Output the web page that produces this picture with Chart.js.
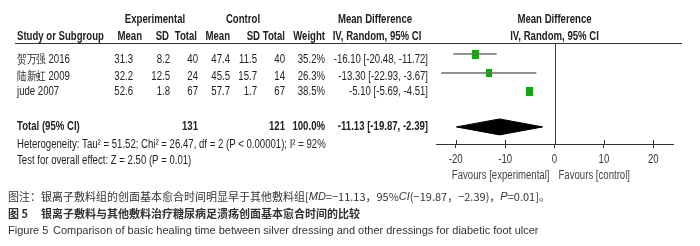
<!DOCTYPE html>
<html>
<head>
<meta charset="utf-8">
<script src="https://cdn.jsdelivr.net/npm/chart.js@4.4.1/dist/chart.umd.min.js"></script>
<style>
  html, body { margin: 0; padding: 0; background: #fff; }
  #forest { display: block; }
</style>
</head>
<body>
<canvas id="forest" width="700" height="246"></canvas>
<script>
// study data
const studies = ['贺万强 2016', '陆新虹 2009', 'jude 2007'];
const expMean = [31.3, 32.2, 52.6];
const expSD = [8.2, 12.5, 1.8];
const expTotal = [40, 24, 67];
const ctrlMean = [47.4, 45.5, 57.7];
const ctrlSD = [11.5, 15.7, 1.7];
const ctrlTotal = [40, 14, 67];
const weights = [35.2, 26.3, 38.5];
const mdValue = [-16.10, -13.30, -5.10];
const ciLow = [-20.48, -22.93, -5.69];
const ciHigh = [-11.72, -3.67, -4.51];

const totalMD = -11.13;
const totalLow = -19.87;
const totalHigh = -2.39;
const totalExp = 131;
const totalCtrl = 121;

const xTicks = [-20, -10, 0, 10, 20];

const green = '#00b000';
const ciGray = '#6e6e6e';
const ink = '#222';

// row positions on the y scale (1 = first study)
const rows = studies.map((s, i) => i + 1);
const totalRow = studies.length + 1.84;
const diamondHalf = 0.42;

function fmt(v) {
  return v.toFixed(2);
}

function squareFor(w) {
  const side = 1.15 * Math.sqrt(w);
  const c = document.createElement('canvas');
  c.width = Math.round(side);
  c.height = Math.round(side * 1.3);
  const g = c.getContext('2d');
  g.fillStyle = green;
  g.fillRect(0, 0, c.width, c.height);
  return c;
}

const ciSets = studies.map((s, i) => ({
  type: 'scatter',
  data: [{ x: ciLow[i], y: rows[i] }, { x: ciHigh[i], y: rows[i] }],
  showLine: true,
  borderColor: ciGray,
  borderWidth: 1.5,
  pointRadius: 0,
}));

const squareSet = {
  type: 'scatter',
  data: mdValue.map((v, i) => ({ x: v, y: rows[i] })),
  pointStyle: weights.map(squareFor),
  pointRadius: 4,
};

const diamondSet = {
  type: 'scatter',
  data: [
    { x: totalLow, y: totalRow },
    { x: totalMD, y: totalRow - diamondHalf },
    { x: totalHigh, y: totalRow },
    { x: totalMD, y: totalRow + diamondHalf },
    { x: totalLow, y: totalRow },
  ],
  showLine: true,
  fill: 'shape',
  tension: 0,
  borderColor: '#000',
  backgroundColor: '#000',
  borderWidth: 1,
  pointRadius: 0,
};

// text drawn a bit narrower, like the original condensed face
function txt(ctx, s, x, y, align, font, sx, color) {
  ctx.save();
  ctx.font = font;
  ctx.fillStyle = color || ink;
  ctx.textAlign = align;
  ctx.textBaseline = 'middle';
  ctx.translate(x, y);
  ctx.scale(sx, 1);
  ctx.fillText(s, 0, 0);
  ctx.restore();
}

const reg = '12px "Liberation Sans", Arial, sans-serif';
const bold = 'bold 12px "Liberation Sans", Arial, sans-serif';
const SX = 0.8;

const forestText = {
  id: 'forestText',
  afterDraw(chart) {
    const { ctx, chartArea, scales: { x } } = chart;
    const zero = x.getPixelForValue(0);

    ctx.save();
    // header rule
    ctx.strokeStyle = '#333';
    ctx.lineWidth = 1;
    ctx.beginPath();
    ctx.moveTo(15, 43.5);
    ctx.lineTo(682, 43.5);
    ctx.stroke();
    // line of no effect
    ctx.strokeStyle = '#444';
    ctx.beginPath();
    ctx.moveTo(Math.round(zero) + 0.5, chartArea.top);
    ctx.lineTo(Math.round(zero) + 0.5, chartArea.bottom);
    ctx.stroke();
    // upper half of the tick marks
    ctx.strokeStyle = '#333';
    xTicks.forEach((t) => {
      const px = Math.round(x.getPixelForValue(t)) + 0.5;
      ctx.beginPath();
      ctx.moveTo(px, chartArea.bottom - 4);
      ctx.lineTo(px, chartArea.bottom);
      ctx.stroke();
    });
    ctx.restore();

    // tick labels
    xTicks.forEach((t) => {
      txt(ctx, String(t), x.getPixelForValue(t), 160, 'center', reg, SX, '#333');
    });
    txt(ctx, 'Favours [experimental]', zero - 5, 176, 'right', reg, SX, '#444');
    txt(ctx, 'Favours [control]', zero + 4, 176, 'left', reg, SX, '#444');

    // headers
    txt(ctx, 'Experimental', 155, 20, 'center', bold, SX);
    txt(ctx, 'Control', 243, 20, 'center', bold, SX);
    txt(ctx, 'Mean Difference', 375, 20, 'center', bold, SX);
    txt(ctx, 'Mean Difference', zero, 20, 'center', bold, SX);
    txt(ctx, 'Study or Subgroup', 17, 37, 'left', bold, SX);
    txt(ctx, 'Mean', 142, 37, 'right', bold, SX);
    txt(ctx, 'SD', 169, 37, 'right', bold, SX);
    txt(ctx, 'Total', 197, 37, 'right', bold, SX);
    txt(ctx, 'Mean', 230, 37, 'right', bold, SX);
    txt(ctx, 'SD', 260, 37, 'right', bold, SX);
    txt(ctx, 'Total', 285, 37, 'right', bold, SX);
    txt(ctx, 'Weight', 325, 37, 'right', bold, SX);
    txt(ctx, 'IV, Random, 95% CI', 377, 37, 'center', bold, SX);
    txt(ctx, 'IV, Random, 95% CI', zero, 37, 'center', bold, SX);

    // study rows
    const textRows = [60, 77, 92];
    studies.forEach((s, i) => {
      const y = textRows[i];
      txt(ctx, s, 17, y, 'left', reg, SX);
      txt(ctx, expMean[i].toFixed(1), 133, y, 'right', reg, SX);
      txt(ctx, expSD[i].toFixed(1), 170, y, 'right', reg, SX);
      txt(ctx, String(expTotal[i]), 198, y, 'right', reg, SX);
      txt(ctx, ctrlMean[i].toFixed(1), 230, y, 'right', reg, SX);
      txt(ctx, ctrlSD[i].toFixed(1), 257, y, 'right', reg, SX);
      txt(ctx, String(ctrlTotal[i]), 285, y, 'right', reg, SX);
      txt(ctx, weights[i].toFixed(1) + '%', 325, y, 'right', reg, SX);
      txt(ctx, fmt(mdValue[i]) + ' [' + fmt(ciLow[i]) + ', ' + fmt(ciHigh[i]) + ']', 428, y, 'right', reg, SX);
    });

    // total row
    txt(ctx, 'Total (95% CI)', 17, 127, 'left', bold, SX);
    txt(ctx, String(totalExp), 198, 127, 'right', bold, SX);
    txt(ctx, String(totalCtrl), 285, 127, 'right', bold, SX);
    txt(ctx, '100.0%', 325, 127, 'right', bold, SX);
    txt(ctx, fmt(totalMD) + ' [' + fmt(totalLow) + ', ' + fmt(totalHigh) + ']', 428, 127, 'right', bold, SX);
    txt(ctx, 'Heterogeneity: Tau² = 51.52; Chi² = 26.47, df = 2 (P < 0.00001); I² = 92%', 17, 145, 'left', reg, SX);
    txt(ctx, 'Test for overall effect: Z = 2.50 (P = 0.01)', 17, 161, 'left', reg, SX);

    // caption
    const cn = '11px "Noto Sans CJK SC", sans-serif';
    const cnB = 'bold 11px "Noto Sans CJK SC", sans-serif';
    const cnI = 'italic 11px "Liberation Sans", Arial, sans-serif';
    const parts = [
      ['图注：银离子敷料组的创面基本愈合时间明显早于其他敷料组[', cn],
      ['MD', cnI],
      ['=−11.13，95%', cn],
      ['CI', cnI],
      ['(−19.87，−2.39)，', cn],
      ['P', cnI],
      ['=0.01]。', cn],
    ];
    let cx = 8;
    ctx.save();
    ctx.fillStyle = '#333';
    ctx.textBaseline = 'middle';
    ctx.textAlign = 'left';
    parts.forEach(([s, f]) => {
      ctx.font = f;
      ctx.fillText(s, cx, 197);
      cx += ctx.measureText(s).width;
    });
    ctx.font = cnB;
    ctx.fillStyle = '#333';
    ctx.fillText('图 5', 8, 214);
    ctx.fillText('银离子敷料与其他敷料治疗糖尿病足溃疡创面基本愈合时间的比较', 41, 214);
    ctx.font = '11px "Liberation Sans", Arial, sans-serif';
    ctx.fillStyle = '#333';
    ctx.fillText('Figure 5', 8, 231);
    ctx.fillText('Comparison of basic healing time between silver dressing and other dressings for diabetic foot ulcer', 53, 231);
    ctx.restore();
  },
};

const forestChart = new Chart(document.getElementById('forest'), {
  type: 'scatter',
  data: { datasets: [...ciSets, diamondSet, squareSet] },
  options: {
    responsive: false,
    animation: false,
    devicePixelRatio: 1,
    layout: { padding: { left: 436, right: 27, top: 43, bottom: 0 } },
    plugins: { legend: { display: false }, tooltip: { enabled: false } },
    scales: {
      x: {
        type: 'linear',
        min: -24,
        max: 24,
        afterBuildTicks: (scale) => {
          scale.ticks = xTicks.map((v) => ({ value: v }));
        },
        afterFit: (scale) => {
          scale.height = 102;
        },
        grid: { drawOnChartArea: false, drawTicks: true, tickLength: 4, color: '#333' },
        border: { color: '#333', width: 1 },
        ticks: { color: 'rgba(0,0,0,0)', font: { size: 11 } },
      },
      y: {
        type: 'linear',
        reverse: true,
        min: 0.42,
        max: 5.74,
        display: false,
      },
    },
  },
  plugins: [forestText],
});
</script>
</body>
</html>
